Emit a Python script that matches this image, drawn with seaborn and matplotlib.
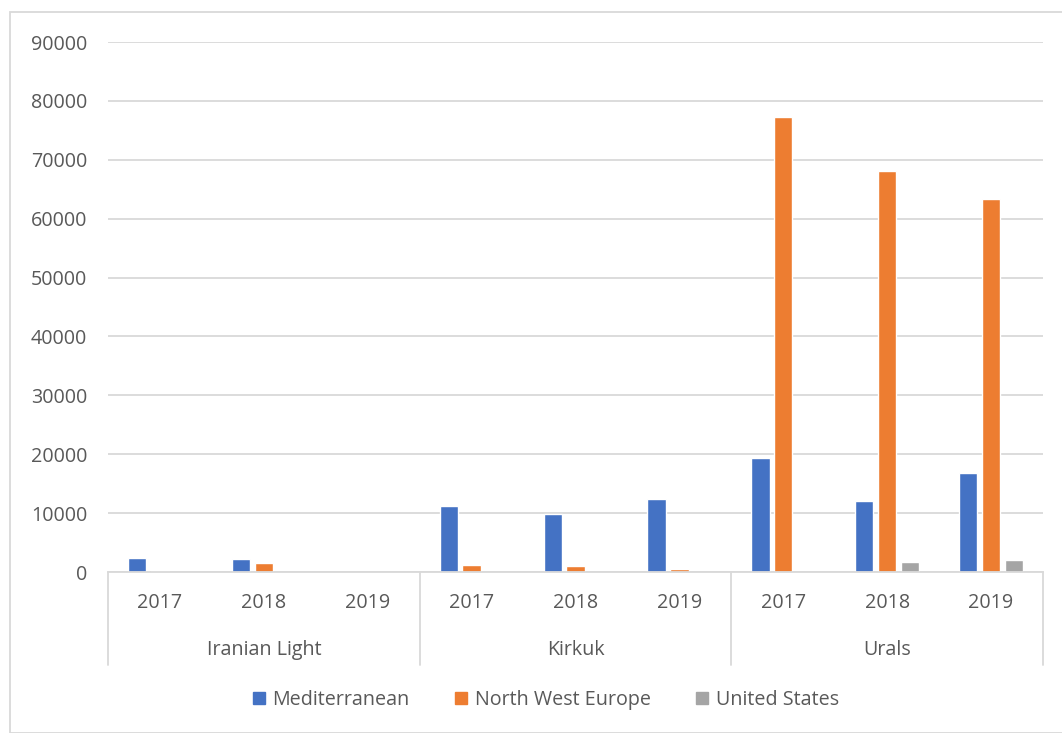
import seaborn as sns
import matplotlib.pyplot as plt
import matplotlib.transforms as mtransforms
from matplotlib.patches import Rectangle
import pandas as pd

# -------------------------
# Data
# -------------------------
grades = ["Iranian Light", "Kirkuk", "Urals"]
years = ["2017", "2018", "2019"]
regions = ["Mediterranean", "North West Europe", "United States"]

mediterranean = [2400, 2200, 0, 11200, 9900, 12400, 19300, 12100, 16800]
north_west_europe = [150, 1450, 0, 1200, 950, 500, 77200, 68100, 63300]
united_states = [0, 0, 0, 0, 0, 0, 0, 1650, 2000]

cats = [f"{g}|{y}" for g in grades for y in years]
df = pd.DataFrame({
    "cat": cats * 3,
    "region": [r for r in regions for _ in cats],
    "value": mediterranean + north_west_europe + united_states,
})

# -------------------------
# Styling
# -------------------------
sns.set_style("white")
plt.rcParams["font.family"] = ["Open Sans", "DejaVu Sans"]
palette = ["#4472C4", "#ED7D31", "#A5A5A5"]
text_col = "#595959"
grid_col = "#D9D9D9"
fs = 14.2

W, H = 1062, 733
fig = plt.figure(figsize=(W / 100, H / 100), dpi=100)
ax = fig.add_axes([108 / W, 1 - 572 / H, (1043 - 108) / W, (572 - 42) / H])

sns.barplot(data=df, x="cat", y="value", hue="region", hue_order=regions,
            palette=palette, width=0.66, gap=0.2, order=cats, ax=ax,
            legend=False, saturation=1)

ax.set_xlim(-0.5, len(cats) - 0.5)
ax.set_ylim(0, 90000)
ax.set_yticks(range(0, 90001, 10000))
ax.set_yticklabels([str(v) for v in range(0, 90001, 10000)], fontsize=fs, color=text_col)
ax.tick_params(axis="y", length=0, pad=15)
ax.yaxis.grid(True, color=grid_col, linewidth=1.3)
ax.set_axisbelow(True)
ax.set_xticks([])
ax.set_xlabel("")
ax.set_ylabel("")
for s in ["top", "right", "left"]:
    ax.spines[s].set_visible(False)
ax.spines["bottom"].set_color(grid_col)
ax.spines["bottom"].set_linewidth(1.3)

# -------------------------
# Two-level category axis
# -------------------------
trans = mtransforms.blended_transform_factory(ax.transData, fig.transFigure)
for i, c in enumerate(cats):
    ax.text(i, 1 - 603 / H, c.split("|")[1], transform=trans, ha="center",
            va="center", fontsize=fs, color=text_col)
for j, g in enumerate(grades):
    ax.text(j * 3 + 1, 1 - 650 / H, g, transform=trans, ha="center",
            va="center", fontsize=fs, color=text_col)
for k in range(len(grades) + 1):
    xk = k * 3 - 0.5
    ax.plot([xk, xk], [1 - 572 / H, 1 - 665 / H], transform=trans,
            color=grid_col, linewidth=1.3, clip_on=False)

# Outer chart border
fig.patches.append(Rectangle((10 / W, 0), 1.0, 1 - 12 / H, transform=fig.transFigure,
                             fill=False, edgecolor=grid_col, linewidth=1.3))

# Legend
handles = [plt.Line2D([], [], marker="s", linestyle="", markersize=8.5,
                      markerfacecolor=c, markeredgecolor=c) for c in palette]
leg = fig.legend(handles, regions, loc="center", ncol=3, frameon=False,
                 bbox_to_anchor=(543 / W, 1 - 700 / H), fontsize=fs,
                 handletextpad=0.1, columnspacing=2.0, handlelength=1.2)
for t in leg.get_texts():
    t.set_color(text_col)

fig.savefig("out.png", dpi=100)
plt.close(fig)
